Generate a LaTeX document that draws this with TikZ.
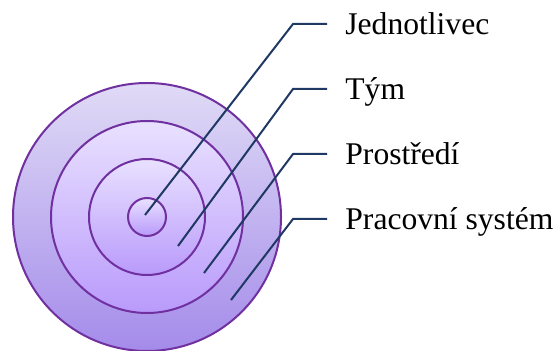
\documentclass[tikz,border=0pt]{standalone}
\usepackage{fontspec}
\setmainfont{Liberation Serif}
\usepackage{xcolor}
\usepackage{tikz}
\usetikzlibrary{positioning}
\definecolor{ringline}{HTML}{7030A0}
\definecolor{leadline}{HTML}{1F3864}
\definecolor{outertop}{HTML}{E0DBF6}
\definecolor{outerbot}{HTML}{A48BEA}
\definecolor{innertop}{HTML}{E9E1FF}
\definecolor{innerbot}{HTML}{B99AFB}
\tikzset{
  % Ring styles
  ring/.style={circle, inner sep=0pt, draw=ringline, line width=1pt, top color=innertop, bottom color=innerbot},
  % Label styles
  lbl/.style={anchor=west, inner xsep=9pt, inner ysep=0pt, text height=11pt, text depth=0pt, font=\fontsize{15.8}{19}\selectfont},
  leader/.style={draw=leadline, line width=1pt},
}
\begin{document}
\begin{tikzpicture}[x=0.5pt, y=-0.5pt]
    \useasboundingbox (0,0) rectangle (555,351);

    % Rings
    \node[ring, minimum size=134pt, top color=outertop, bottom color=outerbot] (ring4) at (147,217) {};
    \node[ring, minimum size=96pt] (ring3) at (147,217) {};
    \node[ring, minimum size=58pt] (ring2) at (147,217) {};
    \node[ring, minimum size=19pt] (ring1) at (147,217) {};

    % Leaders and labels
    \foreach \i/\sx/\sy/\ky/\txt in {1/145/215/24/Jednotlivec, 2/178/246/89/Tým, 3/204/273/154/Prostředí, 4/231/300/219/Pracovní systém} {
      \coordinate (s\i) at (\sx,\sy);
      \coordinate (k\i) at (293,\ky);
      \node[lbl] (lab\i) at (327,\ky) {\txt};
      \draw[leader] (s\i) -- (k\i) -- (lab\i.west);
    }
\end{tikzpicture}
\end{document}
